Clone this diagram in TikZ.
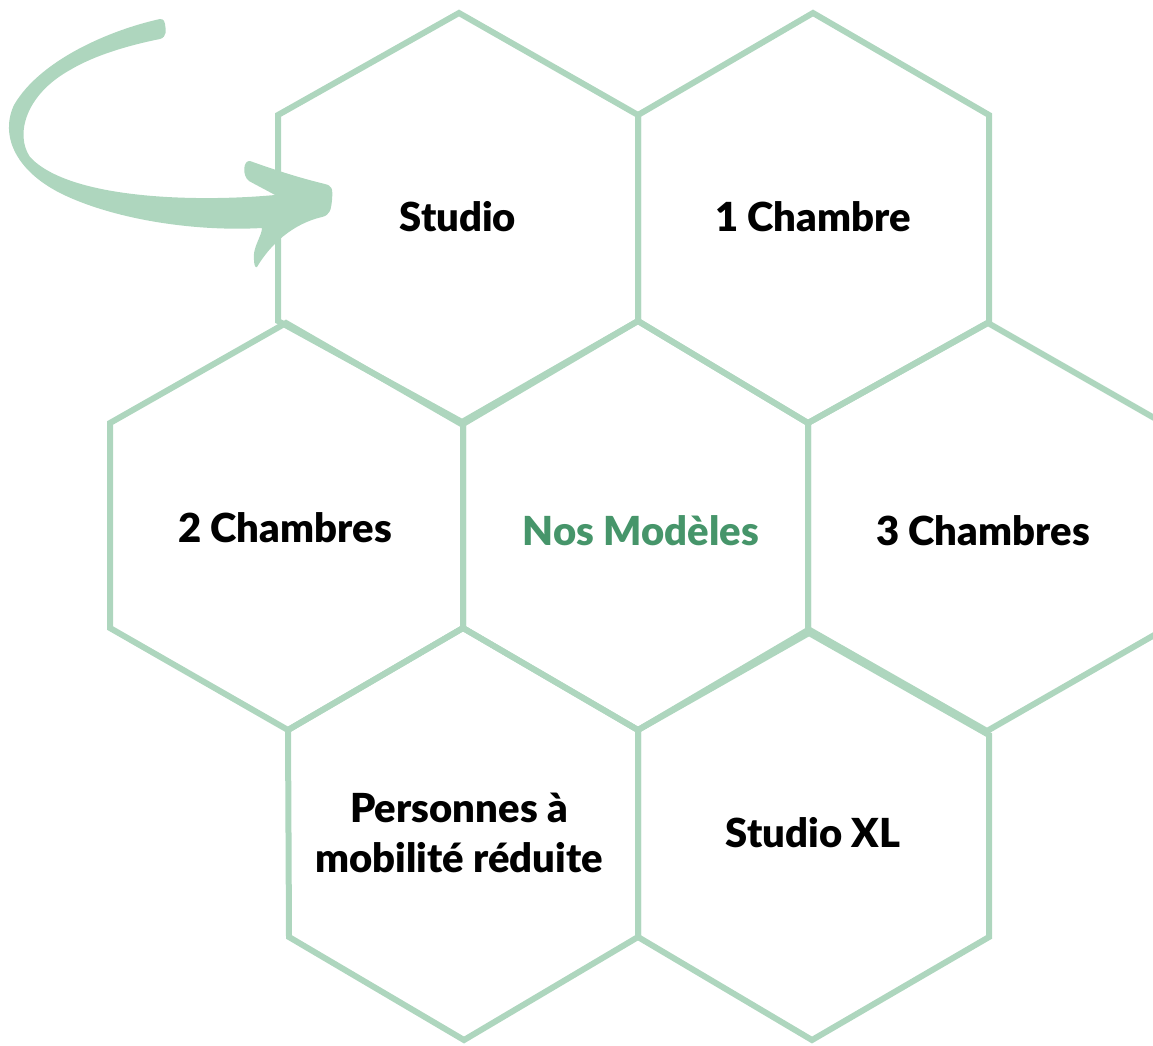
\documentclass[tikz,border=0pt]{standalone}
\usepackage{fontspec}
\setmainfont{Lato}[BoldFont={Lato Black}]
\definecolor{hexgreen}{RGB}{174,214,190}
\definecolor{textgreen}{RGB}{70,149,106}
\begin{document}
\begin{tikzpicture}[x=1pt,y=-1pt,
  hex/.style={draw=hexgreen,line width=6pt,line join=miter},
  lbl/.style={font=\fontsize{40}{50}\selectfont\bfseries,text=black,align=center,inner sep=0pt},
  centrelbl/.style={lbl,text=textgreen}]
\useasboundingbox (0,0) rectangle (1153,1045);
% hexagons
\draw[hex] (459,13) -- (638,115) -- (638,321) -- (462,422) -- (278,321) -- (278,115) -- cycle;
\draw[hex] (813,13) -- (989,115) -- (989,322) -- (808,423) -- (638,321) -- (638,115) -- cycle;
\draw[hex] (286,323) -- (463,425) -- (463,628) -- (288,730) -- (110,628) -- (110,423) -- cycle;
\draw[hex] (638,321) -- (808,423) -- (808,630) -- (638,730) -- (463,628) -- (463,424) -- cycle;
\draw[hex] (988,323) -- (1163,423) -- (1163,630) -- (987,731) -- (808,629) -- (808,423) -- cycle;
\draw[hex] (463,628) -- (638,730) -- (638,937) -- (464,1040) -- (289,937) -- (288,730) -- cycle;
\draw[hex] (809,633) -- (989,735) -- (989,937) -- (812,1040) -- (638,937) -- (638,730) -- cycle;
% brush arrow
\fill[hexgreen] (160,19)
  .. controls (110,30) and (40,60) .. (14,105)
  .. controls (0,135) and (15,170) .. (60,193)
  .. controls (110,218) and (190,232) .. (262,228)
  .. controls (262,236) and (252,248) .. (254,260)
  .. controls (254,266) and (256,268) .. (257,267)
  .. controls (270,245) and (292,224) .. (322,217)
  .. controls (330,215) and (331,210) .. (332,200)
  .. controls (333,188) and (332,186) .. (325,184)
  .. controls (300,178) and (275,170) .. (250,161)
  .. controls (243,160) and (242,176) .. (249,181)
  .. controls (258,186) and (266,190) .. (275,195)
  .. controls (200,202) and (70,200) .. (30,157)
  .. controls (15,135) and (25,95) .. (70,70)
  .. controls (95,55) and (130,45) .. (160,39)
  .. controls (167,37) and (166,30) .. (165,24)
  .. controls (164,19) and (162,19) .. (160,19) -- cycle;
% labels
\node[lbl] (studio) at (458,217) {Studio};
\node[lbl] (ch1) at (813,217) {1 Chambre};
\node[lbl] (ch2) at (285,528) {2 Chambres};
\node[centrelbl] (nos) at (641,531) {Nos Modèles};
\node[lbl] (ch3) at (983,531) {3 Chambres};
\node[lbl] (pmr) at (459,833) {Personnes à\\mobilité réduite};
\node[lbl] (sxl) at (813,833) {Studio XL};
\end{tikzpicture}
\end{document}
